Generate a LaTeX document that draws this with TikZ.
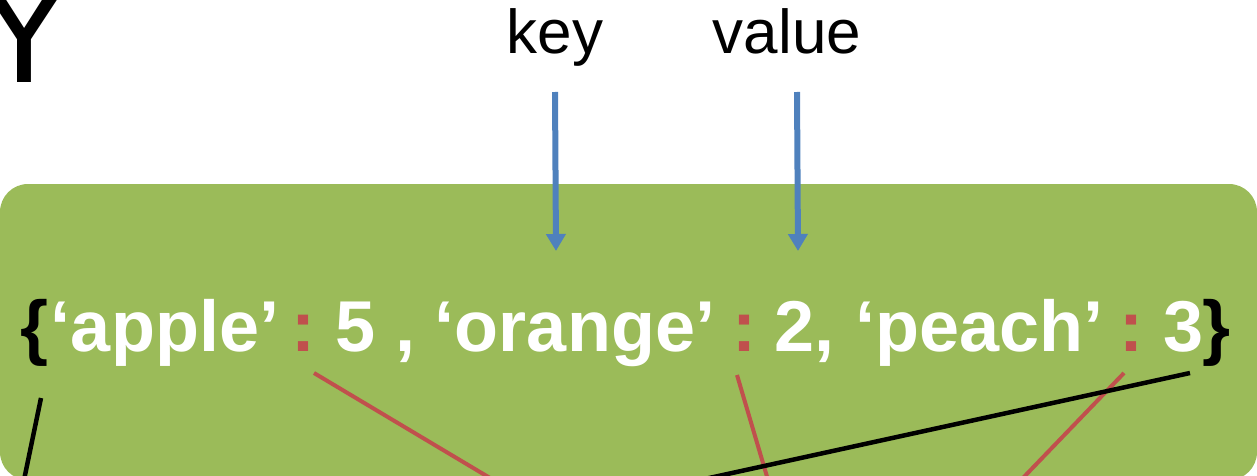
\documentclass[tikz,border=0pt]{standalone}
\usepackage{fontspec}
\setmainfont{Liberation Sans}
\usetikzlibrary{arrows.meta}
\definecolor{boxgreen}{HTML}{9BBB59}
\definecolor{colred}{HTML}{C0504D}
\definecolor{arrblue}{HTML}{4F81BD}
\tikzset{
  label/.style={inner sep=0pt, font=\fontsize{62}{70}\selectfont, text=black},
  dict/.style={inner sep=0pt, anchor=base, font=\fontsize{72}{80}\selectfont\bfseries, text=white},
  brace/.style={dict, text=black},
  sep/.style={dict, text=colred},
  pointer/.style={draw=arrblue, line width=6pt, -{Triangle[width=19pt,length=17pt]}},
  redlink/.style={draw=colred, line width=4pt},
  blacklink/.style={draw=black, line width=4.5pt},
}
\begin{document}
\begin{tikzpicture}[x=1pt,y=-1pt]
\useasboundingbox (0,0) rectangle (1257,476);
\clip (0,0) rectangle (1257,476);
% green panel
\fill[boxgreen, rounded corners=28pt] (0,184) rectangle (1257,480);
% big letter cut at top left
\node[inner sep=0pt, anchor=base, font=\fontsize{150}{160}\selectfont] (bigY) at (24.5,83) {Y};
% labels
\node[label, anchor=base] (key) at (555,54) {key};
\node[label, anchor=base] (value) at (787,54) {value};
% dictionary text, piece by piece
\node[brace] (lbrace) at (34.5,351) {\{};
\node[dict]  (apple)  at (165,351) {‘apple’};
\node[sep]   (colA)   at (303.5,351) {:};
\node[dict]  (five)   at (355.5,351) {5};
\node[dict]  (commaA) at (405,351) {,};
\node[dict]  (orange) at (575,351) {‘orange’};
\node[sep]   (colB)   at (744,351) {:};
\node[dict]  (two)    at (804.5,351) {2,};
\node[dict]  (peach)  at (979.5,351) {‘peach’};
\node[sep]   (colC)   at (1131.5,351) {:};
\node[dict]  (three)  at (1183.5,351) {3};
\node[brace] (rbrace) at (1216.5,351) {\}};
% arrow coordinates
\coordinate (keytop) at (555,92);
\coordinate (keytip) at (556,251);
\coordinate (valtop) at (797,92);
\coordinate (valtip) at (798,251);
\draw[pointer] (keytop) -- (keytip);
\draw[pointer] (valtop) -- (valtip);
% connector coordinates
\coordinate (bracestart) at (41,398);
\coordinate (braceend) at (24,480);
\coordinate (colonA) at (314,373);
\coordinate (colonAend) at (490,478);
\coordinate (colonB) at (737,375);
\coordinate (colonBend) at (768,480);
\coordinate (colonC) at (1124,373);
\coordinate (colonCend) at (1021,480);
\coordinate (closestart) at (1190,373);
\coordinate (closeend) at (700,480);
\draw[blacklink] (bracestart) -- (braceend);
\draw[redlink] (colonA) -- (colonAend);
\draw[redlink] (colonB) -- (colonBend);
\draw[redlink] (colonC) -- (colonCend);
\draw[blacklink] (closestart) -- (closeend);
\end{tikzpicture}
\end{document}
